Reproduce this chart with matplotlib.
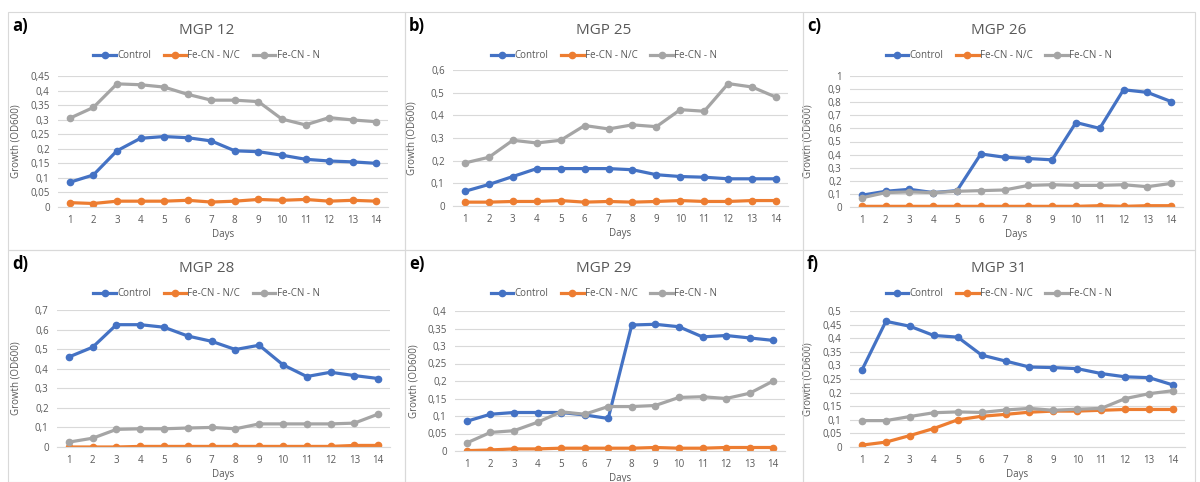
import numpy as np
import matplotlib.pyplot as plt
from matplotlib.patches import Rectangle

plt.rcParams['font.family'] = ['Open Sans', 'DejaVu Sans']

days = list(range(1, 15))
series_names = ['Control', 'Fe-CN - N/C', 'Fe-CN - N']
colors = ['#4472C4', '#ED7D31', '#A5A5A5']

titles = ['MGP 12', 'MGP 25', 'MGP 26', 'MGP 28', 'MGP 29', 'MGP 31']
letters = ['a)', 'b)', 'c)', 'd)', 'e)', 'f)']

# MGP 12
ctrl_12 = [0.085, 0.11, 0.193, 0.236, 0.242, 0.238, 0.227, 0.193, 0.19, 0.178, 0.164, 0.158, 0.155, 0.15]
nc_12 = [0.015, 0.012, 0.02, 0.02, 0.02, 0.023, 0.017, 0.02, 0.026, 0.023, 0.026, 0.02, 0.023, 0.02]
n_12 = [0.305, 0.342, 0.423, 0.42, 0.412, 0.387, 0.367, 0.367, 0.362, 0.302, 0.282, 0.307, 0.299, 0.293]

# MGP 25
ctrl_25 = [0.065, 0.095, 0.13, 0.165, 0.165, 0.165, 0.165, 0.16, 0.138, 0.13, 0.127, 0.12, 0.12, 0.12]
nc_25 = [0.017, 0.017, 0.02, 0.02, 0.024, 0.017, 0.02, 0.017, 0.02, 0.024, 0.02, 0.02, 0.024, 0.024]
n_25 = [0.19, 0.215, 0.29, 0.278, 0.29, 0.355, 0.34, 0.358, 0.35, 0.425, 0.418, 0.54, 0.525, 0.48]

# MGP 26
ctrl_26 = [0.09, 0.12, 0.135, 0.11, 0.125, 0.405, 0.38, 0.37, 0.36, 0.645, 0.6, 0.895, 0.875, 0.805]
nc_26 = [0.005, 0.005, 0.005, 0.005, 0.005, 0.005, 0.005, 0.005, 0.005, 0.005, 0.01, 0.005, 0.01, 0.01]
n_26 = [0.07, 0.11, 0.115, 0.11, 0.12, 0.125, 0.13, 0.165, 0.17, 0.165, 0.165, 0.17, 0.155, 0.18]

# MGP 28
ctrl_28 = [0.46, 0.51, 0.625, 0.625, 0.612, 0.567, 0.54, 0.498, 0.52, 0.42, 0.36, 0.382, 0.365, 0.35]
nc_28 = [0.0, 0.0, 0.0, 0.003, 0.003, 0.003, 0.003, 0.003, 0.003, 0.003, 0.003, 0.003, 0.008, 0.008]
n_28 = [0.025, 0.045, 0.09, 0.093, 0.093, 0.097, 0.1, 0.093, 0.118, 0.118, 0.118, 0.118, 0.122, 0.168]

# MGP 29
ctrl_29 = [0.085, 0.105, 0.11, 0.11, 0.11, 0.103, 0.093, 0.36, 0.362, 0.355, 0.326, 0.33, 0.323, 0.316]
nc_29 = [0.001, 0.003, 0.006, 0.006, 0.008, 0.008, 0.008, 0.008, 0.01, 0.008, 0.008, 0.01, 0.01, 0.01]
n_29 = [0.023, 0.053, 0.058, 0.082, 0.112, 0.105, 0.127, 0.127, 0.13, 0.153, 0.155, 0.15, 0.165, 0.2]

# MGP 31
ctrl_31 = [0.283, 0.462, 0.444, 0.41, 0.404, 0.338, 0.316, 0.294, 0.292, 0.288, 0.27, 0.258, 0.255, 0.228]
nc_31 = [0.007, 0.018, 0.042, 0.068, 0.1, 0.113, 0.12, 0.128, 0.132, 0.132, 0.135, 0.138, 0.138, 0.138]
n_31 = [0.097, 0.097, 0.112, 0.126, 0.129, 0.127, 0.136, 0.142, 0.135, 0.139, 0.142, 0.178, 0.196, 0.207]

data = [
    (ctrl_12, nc_12, n_12),
    (ctrl_25, nc_25, n_25),
    (ctrl_26, nc_26, n_26),
    (ctrl_28, nc_28, n_28),
    (ctrl_29, nc_29, n_29),
    (ctrl_31, nc_31, n_31),
]
ymaxes = [0.45, 0.6, 1.0, 0.7, 0.4, 0.5]
ysteps = [0.05, 0.1, 0.1, 0.1, 0.05, 0.05]

W, H = 1200, 482
fig = plt.figure(figsize=(W / 100, H / 100), dpi=100)

# plot areas in pixels: left, top, right, bottom(zero line)
boxes = [
    (58, 76, 388, 207),
    (453, 70, 788, 206),
    (850, 76, 1183, 207),
    (57, 310, 390, 447),
    (455, 311, 785, 451),
    (850, 311, 1185, 447),
]
panels = [
    (8, 12, 405, 250), (405, 12, 803, 250), (803, 12, 1195, 250),
    (8, 250, 405, 482), (405, 250, 803, 482), (803, 250, 1195, 482),
]
title_y = [30, 30, 30, 269, 269, 269]
legend_y = [56, 56, 56, 294, 294, 294]

for (x0, y0, x1, y1) in panels:
    fig.patches.append(Rectangle((x0 / W, 1 - y1 / H), (x1 - x0) / W, (y1 - y0) / H,
                                 transform=fig.transFigure, fill=False,
                                 edgecolor='#d9d9d9', lw=0.8))

txt = '#595959'

for i in range(6):
    l, t, r, b = boxes[i]
    px0, py0, px1, py1 = panels[i]
    cx = (px0 + px1) / 2
    ax = fig.add_axes([l / W, 1 - b / H, (r - l) / W, (b - t) / H])
    for vals, name, c in zip(data[i], series_names, colors):
        ax.plot(days, vals, color=c, lw=2.3, marker='o', ms=4.5, label=name)
    ax.set_xlim(0.5, 14.5)
    ax.set_ylim(0, ymaxes[i])
    yt = np.arange(0, ymaxes[i] + 1e-9, ysteps[i])
    ax.set_yticks(yt)
    ax.set_yticklabels([f'{v:.2f}'.rstrip('0').rstrip('.').replace('.', ',') for v in yt])
    ax.set_xticks(days)
    ax.grid(axis='y', color='#d9d9d9', lw=0.8)
    ax.set_axisbelow(True)
    for s in ['top', 'right', 'left']:
        ax.spines[s].set_visible(False)
    ax.spines['bottom'].set_color('#d9d9d9')
    ax.tick_params(length=0, labelsize=7, colors=txt, pad=6)
    ax.set_xlabel('Days', fontsize=7, color=txt, labelpad=2)
    ax.set_ylabel('Growth (OD600)', fontsize=7, color=txt)
    ax.yaxis.set_label_coords(-36 / (r - l), 0.5)
    fig.text(cx / W, 1 - title_y[i] / H, titles[i], fontsize=11, color=txt,
             ha='center', va='center')
    ax.legend(loc='center', bbox_to_anchor=(cx / W, 1 - legend_y[i] / H),
              bbox_transform=fig.transFigure, ncol=3, frameon=False,
              fontsize=7, labelcolor=txt, handlelength=2.3, handletextpad=0.15,
              columnspacing=1.3, borderaxespad=0)
    fig.text((px0 + 4) / W, 1 - (py0 + 14) / H, letters[i], fontsize=12,
             fontweight='bold', va='center', ha='left')

fig.savefig('out.png', dpi=100)
